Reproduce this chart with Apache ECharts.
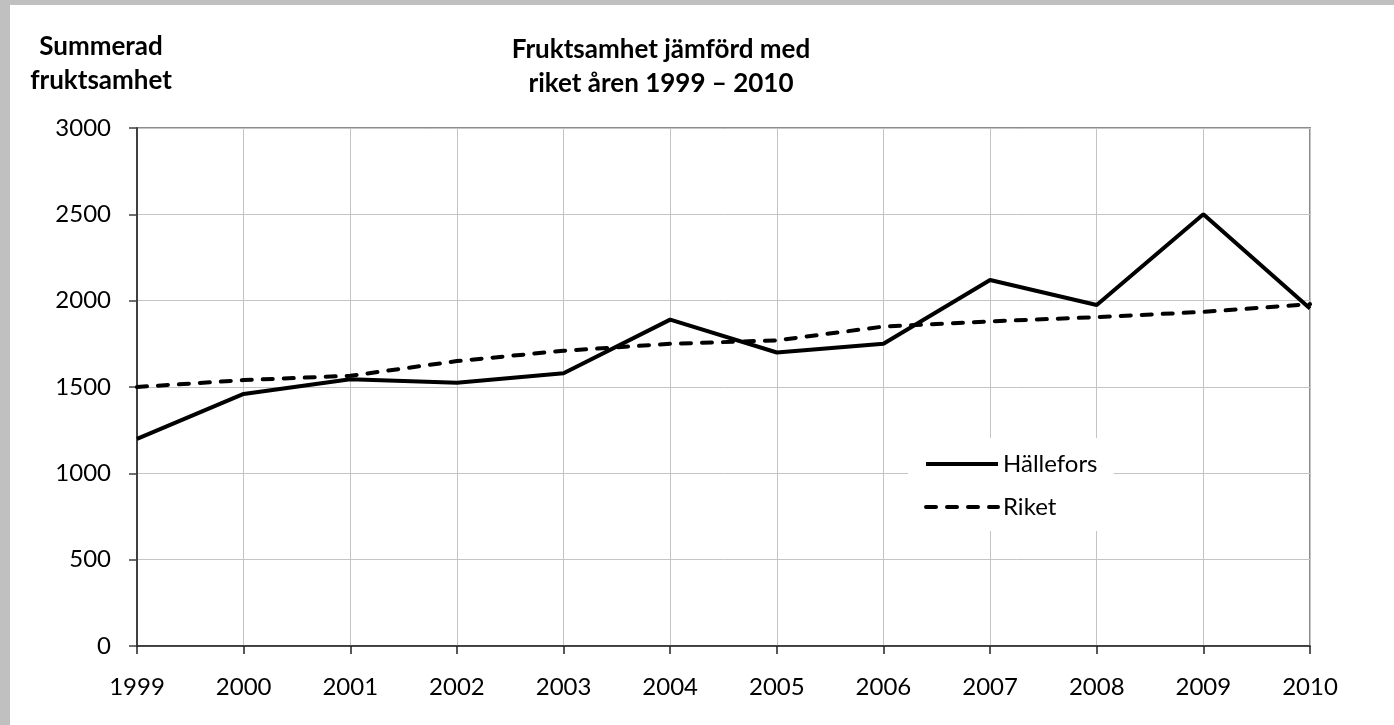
<!DOCTYPE html>
<html>
<head>
<meta charset="utf-8">
<script src="https://cdn.jsdelivr.net/npm/echarts@6/dist/echarts.min.js"></script>
<style>
  html, body { margin: 0; padding: 0; background: #c0c0c0; }
  #chart { position: absolute; left: 10px; top: 5px; width: 1384px; height: 720px; background: #fff; }
</style>
</head>
<body>
<div id="chart"></div>
<script>
const years = ["1999", "2000", "2001", "2002", "2003", "2004", "2005", "2006", "2007", "2008", "2009", "2010"];
const hallefors = [1200, 1460, 1545, 1525, 1580, 1890, 1700, 1750, 2120, 1975, 2500, 1955];
const riket = [1500, 1540, 1565, 1650, 1710, 1750, 1770, 1850, 1880, 1905, 1935, 1980];
const yTicks = { min: 0, max: 3000, interval: 500 };

const font = "Lato, 'Open Sans', sans-serif";

const chart = echarts.init(document.getElementById("chart"));
chart.setOption({
  animation: false,
  textStyle: { fontFamily: font },
  graphic: [
    {
      type: "text",
      x: 651, y: 28,
      style: {
        text: "Fruktsamhet jämförd med\nriket åren 1999 – 2010",
        font: "bold 26px " + font,
        fill: "#000",
        align: "center",
        verticalAlign: "top",
        lineHeight: 34
      }
    },
    {
      type: "text",
      x: 91, y: 25,
      style: {
        text: "Summerad\nfruktsamhet",
        font: "bold 26px " + font,
        fill: "#000",
        align: "center",
        verticalAlign: "top",
        lineHeight: 34
      }
    }
  ],
  grid: {
    left: 127, right: 84, top: 123, bottom: 79,
    show: true, borderColor: "#8c8c8c", borderWidth: 2,
    containLabel: false
  },
  legend: {
    orient: "vertical",
    left: 898, top: 433,
    padding: [14, 16, 12, 16],
    backgroundColor: "#fff",
    itemWidth: 72, itemHeight: 14, itemGap: 19,
    itemStyle: { color: "transparent", borderColor: "transparent", borderWidth: 0 },
    lineStyle: { width: 4 },
    textStyle: { fontSize: 24, color: "#000", fontFamily: font },
    data: ["Hällefors", "Riket"]
  },
  xAxis: {
    type: "category",
    data: years,
    boundaryGap: false,
    axisLine: { lineStyle: { color: "#222", width: 1.5 } },
    axisTick: { show: true, length: 8, lineStyle: { color: "#222", width: 1.5 } },
    axisLabel: { fontSize: 24, color: "#000", margin: 29 },
    splitLine: { show: true, lineStyle: { color: "#c4c4c4", width: 1 } }
  },
  yAxis: {
    type: "value",
    min: yTicks.min, max: yTicks.max, interval: yTicks.interval,
    axisLine: { show: true, lineStyle: { color: "#404040", width: 2 } },
    axisTick: { show: true, length: 8, lineStyle: { color: "#404040", width: 1.5 } },
    axisLabel: {
      fontSize: 24, color: "#000", margin: 26,
      formatter: function (v) { return String(v); }
    },
    splitLine: { show: true, lineStyle: { color: "#c4c4c4", width: 1 } }
  },
  series: [
    {
      name: "Hällefors",
      type: "line",
      data: hallefors,
      symbol: "none",
      lineStyle: { color: "#000", width: 4 },
      itemStyle: { color: "#000" }
    },
    {
      name: "Riket",
      type: "line",
      data: riket,
      symbol: "none",
      lineStyle: { color: "#000", width: 4, type: [10, 11], cap: "round" },
      itemStyle: { color: "#000" }
    }
  ]
});
window.addEventListener("resize", function () {
  chart.resize();
});
</script>
</body>
</html>
